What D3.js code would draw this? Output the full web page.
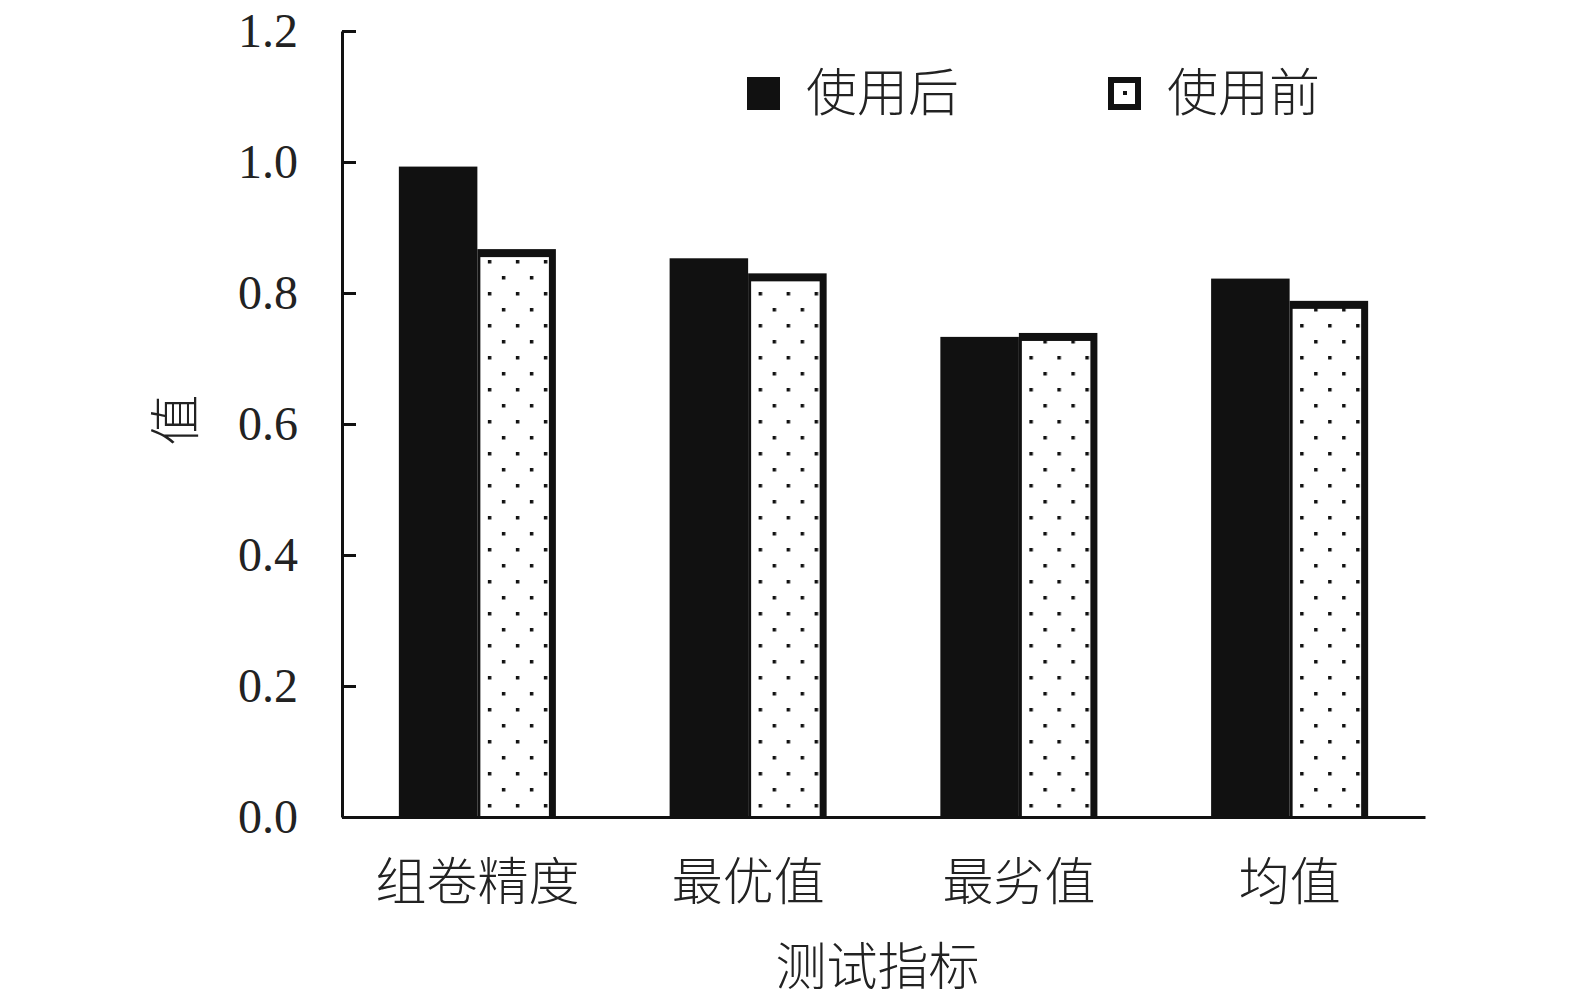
<!DOCTYPE html>
<html>
<head>
<meta charset="utf-8">
<script src="https://cdn.jsdelivr.net/npm/d3@7"></script>
<style>
  body { margin: 0; background: #fff; }
  svg { display: block; }
</style>
</head>
<body>
<div id="chart"></div>
<script>
// data
const categories = ["组卷精度", "最优值", "最劣值", "均值"];
const seriesNames = ["使用后", "使用前"];
const afterValues = [0.993, 0.853, 0.733, 0.822];
const beforeValues = [0.867, 0.83, 0.739, 0.788];
const yTicks = [0, 0.2, 0.4, 0.6, 0.8, 1.0, 1.2];

const data = categories.map((c, i) => ({
    cat: c,
    values: [
        { key: seriesNames[0], value: afterValues[i] },
        { key: seriesNames[1], value: beforeValues[i] }
    ]
}));

const W = 1575, H = 1002;
const margin = { top: 31, right: 150, bottom: 185, left: 342 };
const width = W - margin.left - margin.right,
    height = H - margin.top - margin.bottom;

const ink = "#111";
const cjk = "'Noto Sans CJK SC', 'Noto Sans CJK JP', sans-serif";
const serif = "'Liberation Serif', 'DejaVu Serif', serif";

const svg = d3.select("#chart").append("svg")
    .attr("width", W)
    .attr("height", H);

// dotted fill
const defs = svg.append("defs");
const pat = defs.append("pattern")
    .attr("id", "dots")
    .attr("patternUnits", "userSpaceOnUse")
    .attr("width", 28)
    .attr("height", 32);
pat.append("rect").attr("width", 28).attr("height", 32).attr("fill", "#fff");
pat.append("rect").attr("x", 5).attr("y", 5).attr("width", 3.5).attr("height", 3.5).attr("fill", ink);
pat.append("rect").attr("x", 19).attr("y", 21).attr("width", 3.5).attr("height", 3.5).attr("fill", ink);

const g = svg.append("g")
    .attr("transform", `translate(${margin.left},${margin.top})`);

// scales
const x0 = d3.scaleBand()
    .domain(categories)
    .range([0, width])
    .paddingInner(0.42)
    .paddingOuter(0.21);

const x1 = d3.scaleBand()
    .domain(seriesNames)
    .range([0, x0.bandwidth()]);

const y = d3.scaleLinear()
    .domain([0, 1.2])
    .range([height, 0]);

// bars
const groups = g.selectAll(".group")
    .data(data)
    .enter().append("g")
    .attr("class", "group")
    .attr("transform", d => `translate(${x0(d.cat)},0)`);

groups.selectAll(".bar")
    .data(d => d.values)
    .enter().append("rect")
    .attr("class", "bar")
    .attr("x", d => x1(d.key))
    .attr("y", d => y(d.value))
    .attr("width", x1.bandwidth())
    .attr("height", d => height - y(d.value))
    .attr("fill", ink);

// inner dotted part of the "before" bars (black rim on top and right)
groups.selectAll(".inner")
    .data(d => d.values.filter(v => v.key === seriesNames[1]))
    .enter().append("rect")
    .attr("class", "inner")
    .attr("x", d => x1(d.key) + 3)
    .attr("y", d => y(d.value) + 8)
    .attr("width", x1.bandwidth() - 10)
    .attr("height", d => height - y(d.value) - 8)
    .attr("fill", "url(#dots)");

// y axis, ticks point inward
const yAxis = g.append("g")
    .call(d3.axisLeft(y)
        .tickValues(yTicks)
        .tickFormat(d3.format(".1f"))
        .tickSizeInner(-14)
        .tickSizeOuter(0)
        .tickPadding(44));
yAxis.select(".domain").attr("stroke", ink).attr("stroke-width", 3);
yAxis.selectAll(".tick line").attr("stroke", ink).attr("stroke-width", 3);
yAxis.selectAll(".tick text")
    .attr("fill", "#222")
    .style("font-family", serif)
    .style("font-size", "48px");

// x axis
const xAxis = g.append("g")
    .attr("transform", `translate(0,${height})`)
    .call(d3.axisBottom(x0).tickSize(0).tickPadding(47));
xAxis.select(".domain").attr("stroke", ink).attr("stroke-width", 3);
xAxis.selectAll(".tick text")
    .attr("fill", "#222")
    .style("font-family", cjk)
    .style("font-weight", 300)
    .style("font-size", "51px");

// axis titles
g.append("text")
    .attr("x", width / 2 - 6)
    .attr("y", height + 168)
    .attr("text-anchor", "middle")
    .attr("fill", "#222")
    .style("font-family", cjk)
    .style("font-weight", 300)
    .style("font-size", "51px")
    .text("测试指标");

g.append("text")
    .attr("transform", `translate(${176 - margin.left},${420 - margin.top}) rotate(-90)`)
    .attr("text-anchor", "middle")
    .attr("dy", "0.35em")
    .attr("fill", "#222")
    .style("font-family", cjk)
    .style("font-weight", 300)
    .style("font-size", "51px")
    .text("值");

// legend
const legend = svg.append("g");
const legendX = [747, 1108];
const items = legend.selectAll(".item")
    .data(seriesNames)
    .enter().append("g")
    .attr("class", "item")
    .attr("transform", (d, i) => `translate(${legendX[i]},77)`);

items.append("rect")
    .attr("width", 33)
    .attr("height", 33)
    .attr("fill", ink);
items.filter((d, i) => i === 1).append("rect")
    .attr("x", 6).attr("y", 6)
    .attr("width", 21).attr("height", 21)
    .attr("fill", "#fff");
items.filter((d, i) => i === 1).append("rect")
    .attr("x", 15).attr("y", 14)
    .attr("width", 4).attr("height", 4)
    .attr("fill", ink);

items.append("text")
    .attr("x", 59)
    .attr("y", 16)
    .attr("dy", "0.36em")
    .attr("fill", "#222")
    .style("font-family", cjk)
    .style("font-weight", 300)
    .style("font-size", "51px")
    .text(d => d);
</script>
</body>
</html>
